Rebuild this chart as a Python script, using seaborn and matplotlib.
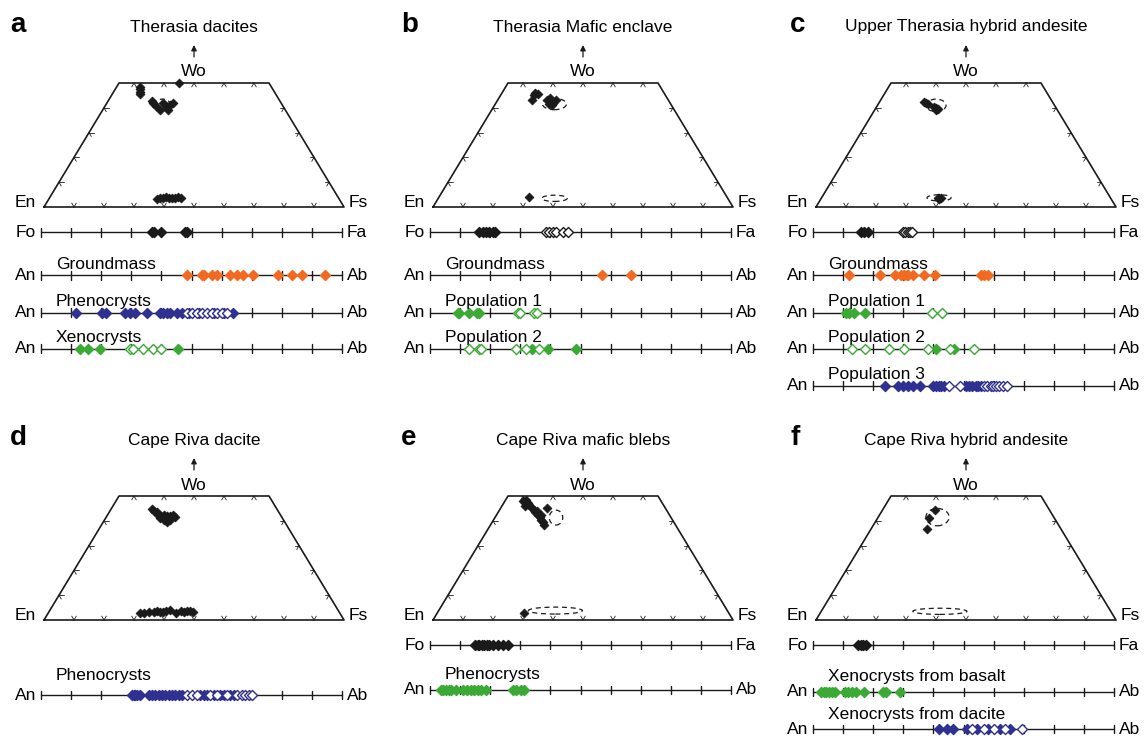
import numpy as np
import matplotlib
matplotlib.use("Agg")
import matplotlib.pyplot as plt
from matplotlib.patches import Ellipse
import seaborn as sns

sns.set_theme(style="white")
plt.rcParams["font.family"] = ["Liberation Sans", "DejaVu Sans"]
plt.rcParams["text.color"] = "black"

ORANGE = "#F26A21"
BLUE = "#2E3192"
GREEN = "#3AAA35"
FS = 12.5

# ---------------- pyroxene data (Fs, Wo mol%) ----------------
a_px_fs = [9.2, 8.8, 8.2, 7.8, 20.0, 15.3, 17.0, 18.6, 20.3, 21.2, 21.9, 21.6, 18.9, 14.5,
           35.8, 36.6, 37.75, 38.55, 39.7, 40.6, 41.75, 42.55, 43.65]
a_px_wo = [45.5, 46.5, 47.5, 48.5, 50.0, 42.0, 40.7, 42.0, 40.7, 41.3, 42.0, 39.3, 39.3, 42.7,
           3.4, 3.8, 3.5, 3.9, 3.6, 3.8, 3.5, 3.9, 3.7]
b_px_fs = [11.0, 11.5, 11.0, 12.2, 16.5, 17.0, 19.0, 19.5, 17.8, 19.0, 30.0]
b_px_wo = [46.0, 43.0, 45.0, 45.5, 43.0, 44.0, 42.0, 43.0, 41.5, 41.0, 4.0]
c_px_fs = [14.8, 15.7, 16.5, 19.2, 20.0, 20.8, 20.5, 38.6, 39.2, 39.7, 39.4]
c_px_wo = [42.5, 42.0, 41.5, 40.5, 40.0, 39.5, 39.0, 3.8, 3.5, 3.6, 3.2]
d_px_fs = [13.6, 14.5, 15.75, 16.75, 18.0, 18.75, 20.0, 21.0, 21.75, 22.75, 21.75, 19.75, 21.25, 18.0, 18.75,
           30.5, 31.8, 33.4, 34.8, 35.7, 36.85, 37.9, 38.7, 40.0, 42.5, 43.75, 44.8, 45.7, 46.75, 47.85]
d_px_wo = [44.8, 44.0, 43.5, 42.5, 42.0, 42.5, 42.0, 42.0, 42.5, 41.5, 40.5, 40.5, 39.5, 41.0, 41.5,
           3.0, 3.0, 3.2, 3.4, 3.6, 3.3, 3.2, 3.6, 4.0, 3.0, 3.5, 3.4, 3.6, 3.5, 3.3]
e_px_fs = [6.0, 6.75, 6.9, 8.0, 8.75, 7.8, 9.75, 11.25, 12.25, 12.5, 13.75, 14.75, 15.75, 16.75, 17.75,
           14.75, 15.5, 28.9]
e_px_wo = [48.0, 47.5, 48.2, 47.0, 46.5, 46.0, 45.5, 44.5, 43.5, 44.0, 42.5, 41.5, 40.5, 39.5, 38.5,
           42.5, 45.0, 2.8]
f_px_fs = [17.5, 17.15, 18.65]
f_px_wo = [44.4, 41.1, 36.7]

# dashed composition fields: centre Fs, centre Wo, width, height
a_field = [(18.75, 41.5, 5.0, 4.0)]
b_field = [(19.75, 41.5, 8.0, 4.5), (38.75, 3.5, 8.5, 2.5)]
c_field = [(19.5, 41.0, 6.7, 5.0), (39.15, 3.7, 8.0, 2.5)]
d_field = []
e_field = [(20.35, 41.3, 4.5, 6.0), (38.9, 3.8, 18.0, 2.8)]
f_field = [(19.75, 41.5, 7.7, 7.0), (39.55, 3.5, 18.0, 2.5)]

# ---------------- olivine (Fa %) and plagioclase (Ab %) ----------------
a_ol_fill = [36.8, 37.4, 40.0, 47.8, 48.4]
a_gm_fill = [48.6, 53.4, 54.2, 56.7, 58.4, 62.8, 65.2, 67.2, 70.3, 78.6, 83.3, 86.8, 94.4]
a_phen_fill = [11.6, 20.2, 21.6, 27.9, 29.6, 31.2, 35.1, 39.5, 40.6, 41.8, 42.9, 45.1, 46.7,
               49.2, 52.5, 57.5, 60.8, 63.9]
a_phen_open = [48.4, 50.1, 51.7, 53.4, 55.0, 56.7, 58.4, 60.0, 61.7]
a_xeno_fill = [13.0, 15.7, 19.6, 45.4]
a_xeno_open = [29.6, 30.7, 33.8, 37.3, 39.8]

b_ol_fill = [16.4, 17.5, 18.6, 19.7, 20.8, 21.7]
b_ol_open = [38.5, 39.6, 40.7, 41.9, 44.1, 46.0]
b_gm_fill = [57.1, 66.8]
b_p1_fill = [9.2, 9.7, 12.8, 15.5, 16.2]
b_p1_open = [29.1, 29.9, 34.7, 35.5]
b_p2_fill = [33.9, 39.1, 48.5]
b_p2_open = [12.8, 16.2, 16.8, 28.6, 31.9, 36.1]

c_ol_fill = [15.9, 17.0, 18.4]
c_ol_open = [29.9, 30.7, 31.4, 32.2, 33.0]
c_gm_fill = [12.0, 22.1, 27.1, 29.4, 30.3, 31.1, 31.6, 33.3, 37.0, 40.6, 55.7, 56.8, 58.0]
c_p1_fill = [10.9, 12.0, 13.5, 17.3]
c_p1_open = [39.5, 42.8]
c_p2_fill = [40.8, 47.0]
c_p2_open = [13.1, 17.3, 25.1, 30.3, 38.3, 45.6, 53.5]
c_p3_fill = [23.8, 28.3, 29.9, 31.6, 33.3, 35.5, 40.0, 40.8, 41.7, 42.6, 43.4,
             50.9, 51.8, 52.9, 54.0, 54.9, 55.7]
c_p3_open = [45.1, 49.0, 56.8, 57.9, 59.1, 59.9, 60.8, 61.9, 63.0, 64.3]

d_phen_fill = [30.2, 30.8, 31.3, 31.9, 33.0, 35.8, 36.9, 38.0, 39.1, 40.2, 41.3, 42.4, 43.5, 44.6,
               45.7, 46.8, 52.9, 54.0, 55.2, 57.4, 59.6, 60.7, 62.9, 64.0]
d_phen_open = [48.5, 50.2, 51.8, 56.3, 58.5, 61.8, 65.1, 66.8, 67.9, 69.0, 70.1]

e_ol_fill = [15.1, 15.8, 16.4, 17.3, 18.1, 18.8, 19.7, 21.0, 22.5, 24.1, 25.8]
e_phen_fill = [3.7, 4.4, 5.3, 6.2, 7.0, 8.6, 10.9, 12.2, 13.6, 14.7, 15.8, 16.9, 18.6,
               27.5, 28.6, 30.2, 31.3]

f_ol_fill = [15.0, 15.8, 16.7, 17.6]
f_bas_fill = [2.8, 3.6, 4.4, 5.3, 6.2, 7.2, 10.6, 11.7, 12.8, 14.4, 16.9, 23.3, 24.4, 28.9]
f_dac_fill = [41.7, 44.4, 46.4, 51.1, 54.4, 58.3, 62.2, 65.6]
f_dac_open = [52.8, 56.7, 60.0, 63.9, 69.4]

panels = [
    dict(letter="a", title="Therasia dacites", col=0, row=0,
         px=(a_px_fs, a_px_wo), fields=a_field, ol=(232.5, a_ol_fill, []), gap=6.5,
         plag=[(275.5, "Groundmass", ORANGE, a_gm_fill, []),
               (312.5, "Phenocrysts", BLUE, a_phen_fill, a_phen_open),
               (348.5, "Xenocrysts", GREEN, a_xeno_fill, a_xeno_open)]),
    dict(letter="b", title="Therasia Mafic enclave", col=1, row=0,
         px=(b_px_fs, b_px_wo), fields=b_field, ol=(232.5, b_ol_fill, b_ol_open), gap=6.5,
         plag=[(275.5, "Groundmass", ORANGE, b_gm_fill, []),
               (312.5, "Population 1", GREEN, b_p1_fill, b_p1_open),
               (348.5, "Population 2", GREEN, b_p2_fill, b_p2_open)]),
    dict(letter="c", title="Upper Therasia hybrid andesite", col=2, row=0,
         px=(c_px_fs, c_px_wo), fields=c_field, ol=(232.5, c_ol_fill, c_ol_open), gap=6.5,
         plag=[(275.5, "Groundmass", ORANGE, c_gm_fill, []),
               (312.5, "Population 1", GREEN, c_p1_fill, c_p1_open),
               (348.5, "Population 2", GREEN, c_p2_fill, c_p2_open),
               (385.5, "Population 3", BLUE, c_p3_fill, c_p3_open)]),
    dict(letter="d", title="Cape Riva dacite", col=0, row=1,
         px=(d_px_fs, d_px_wo), fields=d_field, ol=None, gap=15,
         plag=[(695, "Phenocrysts", BLUE, d_phen_fill, d_phen_open)]),
    dict(letter="e", title="Cape Riva mafic blebs", col=1, row=1,
         px=(e_px_fs, e_px_wo), fields=e_field, ol=(645, e_ol_fill, []), gap=10.5,
         plag=[(690, "Phenocrysts", GREEN, e_phen_fill, [])]),
    dict(letter="f", title="Cape Riva hybrid andesite", col=2, row=1,
         px=(f_px_fs, f_px_wo), fields=f_field, ol=(645, f_ol_fill, []), gap=10.5,
         plag=[(692, "Xenocrysts from basalt", GREEN, f_bas_fill, []),
               (729, "Xenocrysts from dacite", BLUE, f_dac_fill, f_dac_open)]),
]

# ---------------- layout (pixels) ----------------
W, H = 1145, 736
COL_X = [44, 433, 816]
LETTER_X = [10, 401, 790]
ROW_BOT = [207, 620]
QW, QH = 300, 124
SX, SY = QW / 100, QH / 50

fig = plt.figure(figsize=(W / 100, H / 100), dpi=100)


def add_ax(left, top, width, height):
    ax = fig.add_axes([left / W, 1 - (top + height) / H, width / W, height / H])
    ax.set_axis_off()
    return ax


def chevron(ax, x, y, angles, L=4.5):
    for ang in angles:
        dx = L * np.cos(np.radians(ang)) / SX
        dy = L * np.sin(np.radians(ang)) / SY
        ax.plot([x, x + dx], [y, y + dy], color="k", lw=0.6, clip_on=False)


def points(ax, xs, color, filled, s=26):
    if len(xs) == 0:
        return
    sns.scatterplot(x=list(xs), y=[0.0] * len(xs), ax=ax, marker="D", s=s, color=color,
                    facecolor=color if filled else "white", edgecolor=color,
                    linewidth=1.0, zorder=4 if not filled else 3, clip_on=False, legend=False)


def quad(p):
    x0, yb = COL_X[p["col"]], ROW_BOT[p["row"]]
    ax = add_ax(x0, yb - QH, QW, QH)
    ax.set_xlim(0, 100)
    ax.set_ylim(0, 50)
    ax.plot([0, 25, 75, 100, 0], [0, 50, 50, 0, 0], color="k", lw=1.2, clip_on=False)
    for t in range(10, 100, 10):
        chevron(ax, t, 0, [60, 120])
    for t in range(30, 80, 10):
        chevron(ax, t, 50, [-60, -120])
    for w in range(10, 50, 10):
        chevron(ax, w / 2, w, [0, -60])
        chevron(ax, 100 - w / 2, w, [180, -120])
    fs, wo = np.array(p["px"][0]), np.array(p["px"][1])
    sns.scatterplot(x=fs + wo / 2, y=wo, ax=ax, marker="D", s=20, color="k",
                    edgecolor="k", linewidth=0.6, clip_on=False, legend=False)
    for cfs, cwo, w, h in p["fields"]:
        ax.add_patch(Ellipse((cfs + cwo / 2, cwo), w, h, fill=False, ec="k",
                             lw=0.9, ls=(0, (4, 3)), clip_on=False))
    ax.text(-8 / SX, 0, "En", ha="right", va="baseline", fontsize=FS)
    ax.text(100 + 5 / SX, 0, "Fs", ha="left", va="baseline", fontsize=FS)
    ax.text(50, 50 + 6.5 / SY, "Wo", ha="center", va="baseline", fontsize=FS)
    ax.annotate("", xy=(50, 50 + 38 / SY), xytext=(50, 50 + 26 / SY),
                arrowprops=dict(arrowstyle="-|>", color="k", lw=0.9, mutation_scale=8,
                                shrinkA=0, shrinkB=0), annotation_clip=False)
    fig.text((x0 + 150) / W, 1 - (yb - 180) / H, p["title"], ha="center", va="center",
             fontsize=FS)
    fig.text(LETTER_X[p["col"]] / W, 1 - (yb - 182) / H, p["letter"], ha="left",
             va="center", fontsize=20, fontweight="bold")


def bar(p, y, left_lab, right_lab, fill, opn, color, label=None):
    x0 = COL_X[p["col"]] - 3
    ax = add_ax(x0, y - 10, 301, 20)
    ax.set_xlim(0, 100)
    ax.set_ylim(-1, 1)
    ax.plot([0, 100], [0, 0], color="k", lw=1.0, clip_on=False)
    for t in range(0, 101, 10):
        ax.plot([t, t], [-0.42, 0.42], color="k", lw=1.0, clip_on=False)
    points(ax, fill, color, True)
    points(ax, opn, color, False)
    ax.text(-5 / 3.01, 0, left_lab, ha="right", va="center", fontsize=FS)
    ax.text(100 + 5 / 3.01, 0, right_lab, ha="left", va="center", fontsize=FS)
    if label:
        ax.text(15 / 3.01, p["gap"] / 10, label, ha="left", va="baseline", fontsize=FS)


for p in panels:
    quad(p)
    if p["ol"] is not None:
        y, fill, opn = p["ol"]
        bar(p, y, "Fo", "Fa", fill, opn, "k")
    for y, lab, color, fill, opn in p["plag"]:
        bar(p, y, "An", "Ab", fill, opn, color, lab)

fig.savefig("out.png", dpi=100, facecolor="white")
